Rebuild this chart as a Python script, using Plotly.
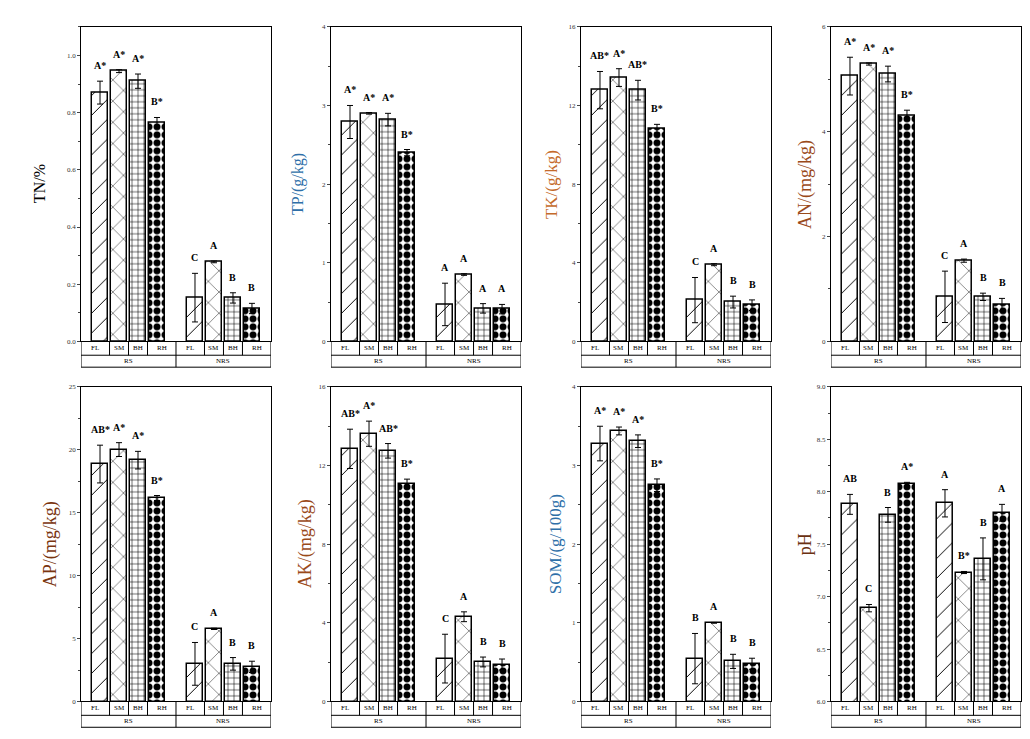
import plotly.graph_objects as go
from plotly.subplots import make_subplots

# categories
groups = ["RS", "NRS"]
sites = ["FL", "SM", "BH", "RH"]

# means / standard errors, order: RS FL SM BH RH, NRS FL SM BH RH
tn = [0.87, 0.945, 0.91, 0.765, 0.153, 0.278, 0.152, 0.115]
tn_err = [0.04, 0.005, 0.025, 0.018, 0.085, 0.003, 0.018, 0.018]
tn_let = ["A*", "A*", "A*", "B*", "C", "A", "B", "B"]

tp = [2.79, 2.90, 2.82, 2.40, 0.47, 0.85, 0.42, 0.41]
tp_err = [0.21, 0.01, 0.08, 0.04, 0.27, 0.01, 0.06, 0.06]
tp_let = ["A*", "A*", "A*", "B*", "A", "A", "A", "A"]

tk = [12.78, 13.42, 12.78, 10.82, 2.1, 3.9, 2.0, 1.84]
tk_err = [0.95, 0.45, 0.5, 0.22, 1.15, 0.05, 0.3, 0.27]
tk_let = ["AB*", "A*", "AB*", "B*", "C", "A", "B", "B"]

an = [5.06, 5.29, 5.10, 4.31, 0.85, 1.54, 0.85, 0.70]
an_err = [0.36, 0.02, 0.15, 0.10, 0.49, 0.03, 0.07, 0.12]
an_let = ["A*", "A*", "A*", "B*", "C", "A", "B", "B"]

ap = [18.87, 20.02, 19.18, 16.17, 2.99, 5.77, 2.99, 2.75]
ap_err = [1.5, 0.55, 0.7, 0.2, 1.7, 0.05, 0.5, 0.45]
ap_let = ["AB*", "A*", "A*", "B*", "C", "A", "B", "B"]

ak = [12.85, 13.62, 12.75, 11.07, 2.18, 4.31, 2.01, 1.88]
ak_err = [1.0, 0.64, 0.37, 0.24, 1.24, 0.25, 0.25, 0.28]
ak_let = ["AB*", "A*", "AB*", "B*", "C", "A", "B", "B"]

som = [3.28, 3.44, 3.31, 2.75, 0.545, 1.0, 0.51, 0.48]
som_err = [0.22, 0.05, 0.08, 0.08, 0.32, 0.005, 0.09, 0.07]
som_let = ["A*", "A*", "A*", "B*", "B", "A", "B", "B"]

ph = [7.88, 6.89, 7.78, 8.075, 7.89, 7.23, 7.36, 7.80]
ph_err = [0.095, 0.035, 0.07, 0.015, 0.13, 0.01, 0.2, 0.08]
ph_let = ["AB", "C", "B", "A*", "A", "B*", "B", "A"]

panels = [
    ("TN/%", tn, tn_err, tn_let, [0, 1.1], 0.2, 0.1, ".1f", "black", 16, -42),
    ("TP/(g/kg)", tp, tp_err, tp_let, [0, 4], 1, 0.5, "d", "#2e6fa8", 16, -33),
    ("TK/(g/kg)", tk, tk_err, tk_let, [0, 16], 4, 2, "d", "#c46a2a", 17, -30),
    ("AN/(mg/kg)", an, an_err, an_let, [0, 6], 2, 1, "d", "#9a4a1a", 18, -26),
    ("AP/(mg/kg)", ap, ap_err, ap_let, [0, 25], 5, 2.5, "d", "#7a3510", 18, -31),
    ("AK/(mg/kg)", ak, ak_err, ak_let, [0, 16], 4, 2, "d", "#9a4a1a", 18, -26),
    ("SOM/(g/100g)", som, som_err, som_let, [0, 4], 1, 0.5, "d", "#2e6fa8", 17, -26),
    ("pH", ph, ph_err, ph_let, [6, 9], 0.5, 0.25, ".1f", "#6a3010", 18, -26),
]

SERIF = "Liberation Serif, Times New Roman, serif"
shapes_site = ["/", "x", "+", "."]
sizes_site = [14, 15, 6, 8]
solid_site = [0.07, 0.06, 0.18, 0.6]

xpos = [g * 5 + i + 1 for g in range(len(groups)) for i in range(len(sites))]

fig = make_subplots(rows=2, cols=4)

xdom = [[0.0709, 0.2553], [0.3136, 0.4981], [0.5563, 0.7408], [0.7990, 0.9835]]
ydom = [[0.5494, 0.9797], [0.0568, 0.4871]]
h1, h2 = 0.044, 0.038

annotations = []
shapes = []
for k, (title, vals, errs, lets, yr, dt, mdt, fmt, tcol, tsize, tshift) in enumerate(panels):
    r, c = k // 4 + 1, k % 4 + 1
    fig.add_trace(go.Bar(
        x=xpos, y=vals, width=0.82,
        marker=dict(color="white", line=dict(color="black", width=1.5),
                    pattern=dict(shape=shapes_site * 2, size=sizes_site * 2,
                                 solidity=solid_site * 2, fgcolor="black",
                                 bgcolor="white", fgopacity=1)),
        error_y=dict(type="data", array=errs, color="black", thickness=1, width=3),
        showlegend=False,
    ), row=r, col=c)
    n = "" if k == 0 else str(k + 1)
    xa, ya = "x" + n, "y" + n
    fig.update_xaxes(domain=xdom[c - 1], range=[0, 10], showticklabels=False,
                     ticks="", showgrid=False, zeroline=False, showline=True,
                     mirror=True, linecolor="black", linewidth=1, row=r, col=c)
    fig.update_yaxes(domain=ydom[r - 1], range=yr, dtick=dt, tick0=yr[0],
                     tickformat=fmt, ticks="outside", ticklen=3, tickwidth=1,
                     minor=dict(ticks="outside", ticklen=2, dtick=mdt, tick0=yr[0]),
                     showgrid=False, zeroline=False, showline=True, mirror=True,
                     linecolor="black", linewidth=1,
                     tickfont=dict(family=SERIF, size=7, color="#333"),
                     row=r, col=c)
    # y axis title
    annotations.append(dict(text=title, xref="paper", yref=ya + " domain",
                            x=xdom[c - 1][0], y=0.5, xshift=tshift, textangle=-90,
                            showarrow=False, xanchor="center", yanchor="middle",
                            font=dict(family=SERIF, size=tsize, color=tcol)))
    # significance letters
    for xp, v, e, t in zip(xpos, vals, errs, lets):
        annotations.append(dict(text="<b>" + t + "</b>", xref=xa, yref=ya,
                                x=xp, y=v + e, yshift=8, showarrow=False,
                                yanchor="bottom",
                                font=dict(family=SERIF, size=10, color="black")))
    # label table under the axis
    ln = dict(color="black", width=1)
    yd = ya + " domain"
    shapes.append(dict(type="line", xref=xa, yref=yd, x0=0, x1=10, y0=-h1, y1=-h1, line=ln))
    shapes.append(dict(type="line", xref=xa, yref=yd, x0=0, x1=10, y0=-h1 - h2, y1=-h1 - h2, line=ln))
    for xv in [0, 5, 10]:
        shapes.append(dict(type="line", xref=xa, yref=yd, x0=xv, x1=xv, y0=0, y1=-h1 - h2, line=ln))
    for xv in [1.5, 2.5, 3.5, 6.5, 7.5, 8.5]:
        shapes.append(dict(type="line", xref=xa, yref=yd, x0=xv, x1=xv, y0=0, y1=-h1, line=ln))
    cell_mid = [0.75, 2, 3, 4.25, 5.75, 7, 8, 9.25]
    for xm, s in zip(cell_mid, sites * 2):
        annotations.append(dict(text=s, xref=xa, yref=yd, x=xm, y=-h1 / 2,
                                showarrow=False, yanchor="middle",
                                font=dict(family=SERIF, size=7, color="black")))
    for g, name in enumerate(groups):
        annotations.append(dict(text=name, xref=xa, yref=yd, x=2.5 + 5 * g,
                                y=-h1 - h2 / 2, showarrow=False, yanchor="middle",
                                font=dict(family=SERIF, size=7, color="black")))

fig.update_layout(width=1030, height=739, margin=dict(l=0, r=0, t=0, b=0),
                  plot_bgcolor="white", paper_bgcolor="white",
                  annotations=annotations, shapes=shapes, bargap=0)
fig.write_html("out.html")
